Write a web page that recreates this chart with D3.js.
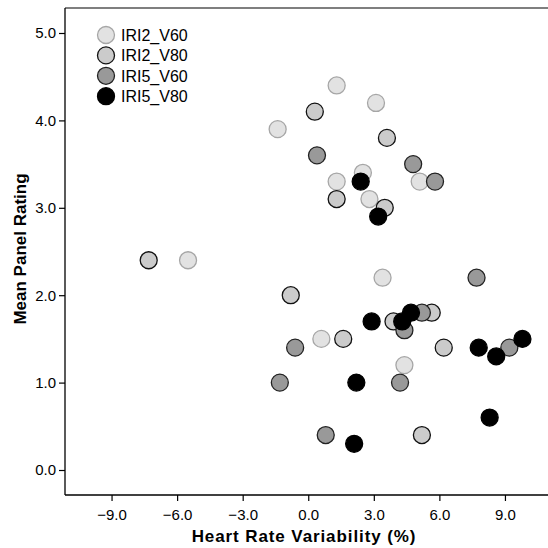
<!DOCTYPE html>
<html>
<head>
<meta charset="utf-8">
<script src="https://cdn.jsdelivr.net/npm/d3@7"></script>
<style>
  body { margin: 0; background: #fff; }
  text { font-family: "Liberation Sans", Arial, sans-serif; }
</style>
</head>
<body>
<div id="chart"></div>
<script>
const WIDTH = 548, HEIGHT = 548;
const margin = {top: 8, right: 0, bottom: 53, left: 65};

// series names, in drawing order
const seriesNames = ["IRI2_V60", "IRI2_V80", "IRI5_V60", "IRI5_V80"];

// heart rate variability (%) and mean panel rating per series
const iri2V60x = [1.3, 3.1, -1.4, 2.5, 1.3, 5.1, 2.8, -5.5, 3.4, 0.6, 4.4];
const iri2V60y = [4.4, 4.2, 3.9, 3.4, 3.3, 3.3, 3.1, 2.4, 2.2, 1.5, 1.2];
const iri2V80x = [0.3, 3.6, 1.3, 3.5, -7.3, -0.8, 3.9, 5.65, 1.6, 6.2, 5.2];
const iri2V80y = [4.1, 3.8, 3.1, 3.0, 2.4, 2.0, 1.7, 1.8, 1.5, 1.4, 0.4];
const iri5V60x = [0.4, 4.8, 5.8, 7.7, 5.2, 4.4, -0.6, 9.2, -1.3, 4.2, 0.8];
const iri5V60y = [3.6, 3.5, 3.3, 2.2, 1.8, 1.6, 1.4, 1.4, 1.0, 1.0, 0.4];
const iri5V80x = [2.4, 3.2, 2.9, 4.3, 4.7, 7.8, 8.6, 9.8, 2.2, 8.3, 2.1];
const iri5V80y = [3.3, 2.9, 1.7, 1.7, 1.8, 1.4, 1.3, 1.5, 1.0, 0.6, 0.3];

const xTicks = [-9, -6, -3, 0, 3, 6, 9];
const yTicks = [0, 1, 2, 3, 4, 5];

const fills = ["#e2e2e2", "#cbcbcb", "#999999", "#000000"];
const strokes = ["#a6a6a6", "#111111", "#222222", "#000000"];

const seriesX = [iri2V60x, iri2V80x, iri5V60x, iri5V80x];
const seriesY = [iri2V60y, iri2V80y, iri5V60y, iri5V80y];

let points = [];
seriesNames.forEach(function(name, i) {
    seriesX[i].forEach(function(v, j) {
        points.push({series: i, x: v, y: seriesY[i][j]});
    });
});

let svg = d3.select("#chart")
    .append("svg")
    .attr("width", WIDTH)
    .attr("height", HEIGHT);

let plot_w = WIDTH - margin.left - margin.right;
let plot_h = HEIGHT - margin.top - margin.bottom;

let g = svg.append("g")
    .attr("transform", `translate(${margin.left}, ${margin.top})`);

let x = d3.scaleLinear()
    .domain([-11.13, 10.97])
    .range([0, plot_w]);

let y = d3.scaleLinear()
    .domain([-0.286, 5.286])
    .range([plot_h, 0]);

// frame: top and bottom lines run to the edge, no right border
g.append("line")
    .attr("x1", 0).attr("x2", plot_w)
    .attr("y1", 0).attr("y2", 0)
    .attr("stroke", "#555").attr("stroke-width", 1.3);

let xAxis = g.append("g")
    .attr("transform", `translate(0, ${plot_h})`)
    .call(d3.axisBottom(x).tickValues(xTicks).tickSize(6).tickPadding(8)
        .tickFormat(d3.format(".1f")));

let yAxis = g.append("g")
    .call(d3.axisLeft(y).tickValues(yTicks).tickSize(6).tickPadding(3)
        .tickFormat(d3.format(".1f")));

[xAxis, yAxis].forEach(function(a) {
    a.select(".domain").attr("stroke", "#000").attr("stroke-width", 1.3);
    a.selectAll(".tick line").attr("stroke", "#000").attr("stroke-width", 1.2);
    a.selectAll(".tick text")
        .attr("fill", "#000")
        .style("font-size", "15px")
        .style("font-family", "'Liberation Sans', Arial, sans-serif");
});
// replace path so the domain lines have no outer ticks
xAxis.select(".domain").attr("d", `M0,0H${plot_w}`);
yAxis.select(".domain").attr("d", `M0,0V${plot_h}`);

// points
g.append("g").selectAll("circle")
    .data(points)
    .enter()
    .append("circle")
    .attr("cx", function(d) { return x(d.x); })
    .attr("cy", function(d) { return y(d.y); })
    .attr("r", 8.5)
    .attr("fill", function(d) { return fills[d.series]; })
    .attr("stroke", function(d) { return strokes[d.series]; })
    .attr("stroke-width", 1.3);

// legend
let legend = svg.append("g")
    .attr("transform", "translate(106, 35)");

let items = legend.selectAll("g")
    .data(seriesNames)
    .enter()
    .append("g")
    .attr("transform", function(d, i) { return `translate(0, ${i * 20.4})`; });

items.append("circle")
    .attr("r", 8.5)
    .attr("fill", function(d, i) { return fills[i]; })
    .attr("stroke", function(d, i) { return strokes[i]; })
    .attr("stroke-width", 1.3);

items.append("text")
    .attr("x", 15)
    .attr("dy", "0.36em")
    .style("font-size", "16px")
    .text(function(d) { return d; });

// axis titles
svg.append("text")
    .attr("x", 304)
    .attr("y", 542)
    .style("text-anchor", "middle")
    .style("font-size", "17px")
    .style("letter-spacing", "0.9px")
    .style("font-weight", "bold")
    .text("Heart Rate Variability (%)");

svg.append("text")
    .attr("transform", `translate(26, 249) rotate(-90)`)
    .style("text-anchor", "middle")
    .style("font-size", "17px")
    .style("font-weight", "bold")
    .text("Mean Panel Rating");
</script>
</body>
</html>
